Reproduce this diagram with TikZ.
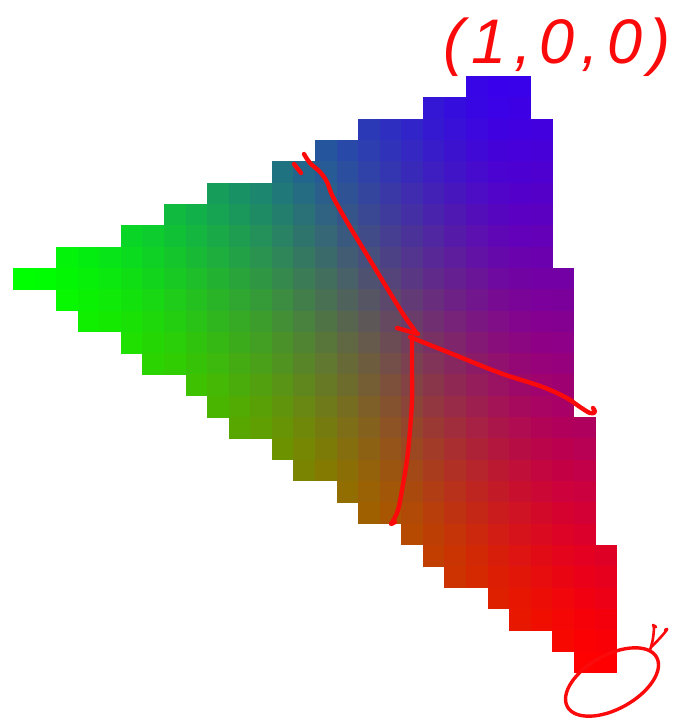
\documentclass[tikz,border=0pt]{standalone}
\usepackage{fontspec}
\newfontfamily\handfont[LetterSpace=12]{Liberation Sans}
\definecolor{ink}{RGB}{250,10,10}
\begin{document}
\begin{tikzpicture}[x=1pt,y=-1pt,
  inkline/.style={draw=ink, line width=4.4pt, line cap=round, line join=round},
  thinink/.style={draw=ink, line width=2.6pt, line cap=round, line join=round}]
\useasboundingbox (0,0) rectangle (672,719);
\fill[white] (0,0) rectangle (672,719);
% pixelated colour triangle
\foreach \i/\t/\b in {0/9/9,1/9/9,2/8/10,3/8/11,4/8/11,5/7/12,6/7/13,7/6/13,8/6/14,9/5/15,10/5/16,11/5/16,12/4/17,13/4/18,14/3/18,15/3/19,16/2/20,17/2/20,18/2/21,19/1/22,20/1/23,21/0/23,22/0/24,23/0/25,24/2/25,25/9/26,26/16/27,27/22/27}{
  \foreach \j in {\t,...,\b}{
    \pgfmathsetmacro\u{\i+0.5}
    \pgfmathsetmacro\v{\j+0.5}
    \pgfmathsetmacro\wbraw{(18*(\u-27)-26*(\v-27.5))/621}
    \pgfmathsetmacro\wgraw{(-27*(\u-27)+4.5*(\v-27.5))/621}
    \pgfmathsetmacro\wb{max(0,\wbraw)}
    \pgfmathsetmacro\wg{max(0,\wgraw)}
    \pgfmathsetmacro\wr{max(0,1-\wbraw-\wgraw)}
    \pgfmathsetmacro\wb{\wb*sqrt(sqrt(\wb))}
    \pgfmathsetmacro\wg{\wg*sqrt(sqrt(\wg))}
    \pgfmathsetmacro\wr{\wr*sqrt(sqrt(\wr))}
    \pgfmathsetmacro\s{\wb+\wg+\wr}
    \pgfmathsetmacro\cr{min(1,(\wr+0.22*\wb)/\s)}
    \pgfmathsetmacro\cg{min(1,\wg/\s)}
    \pgfmathsetmacro\cb{min(1,0.92*\wb/\s)}
    \definecolor{cellc}{rgb}{\cr,\cg,\cb}
    \fill[cellc] ({13+21.57*\i},{76+21.32*\j}) rectangle ({13+21.57*(\i+1)+0.4},{76+21.32*(\j+1)+0.4});
  }
}
% label
\node[text=ink, anchor=base west, inner sep=0pt,
      font=\handfont\itshape\fontsize{63}{63}\selectfont] (label) at (443,64) {(1,0,0)};
% hand-drawn strokes
\draw[inkline] plot[smooth, tension=0.6] coordinates {(304,154) (310,163) (320,172) (327,182) (333,197) (350,227) (370,260) (390,293) (405,317) (413,328) (417,334)};
\draw[inkline] (294,164) -- (301,173);
\draw[inkline] (397,328) -- (418,334);
\draw[inkline] plot[smooth, tension=0.6] coordinates {(410,337) (450,353) (500,373) (540,386) (565,397) (580,407) (590,413) (595,412) (593,408)};
\draw[inkline] plot[smooth, tension=0.6] coordinates {(412,337) (412,370) (412,400) (410,430) (407,460) (402,490) (398,510) (393,521) (391,524) (395,522)};
% ellipse at red corner
\draw[inkline, line width=3.4pt, rotate around={29:(612,682)}] (612,682) ellipse [x radius=51pt, y radius=27pt];
\draw[thinink] plot[smooth, tension=0.6] coordinates {(650,650) (652.7,640) (654,628) (653,625) (656,627)};
\draw[thinink] plot[smooth, tension=0.6] coordinates {(651.7,646.7) (660,638) (666,631) (667,629) (665,630)};
\end{tikzpicture}
\end{document}
